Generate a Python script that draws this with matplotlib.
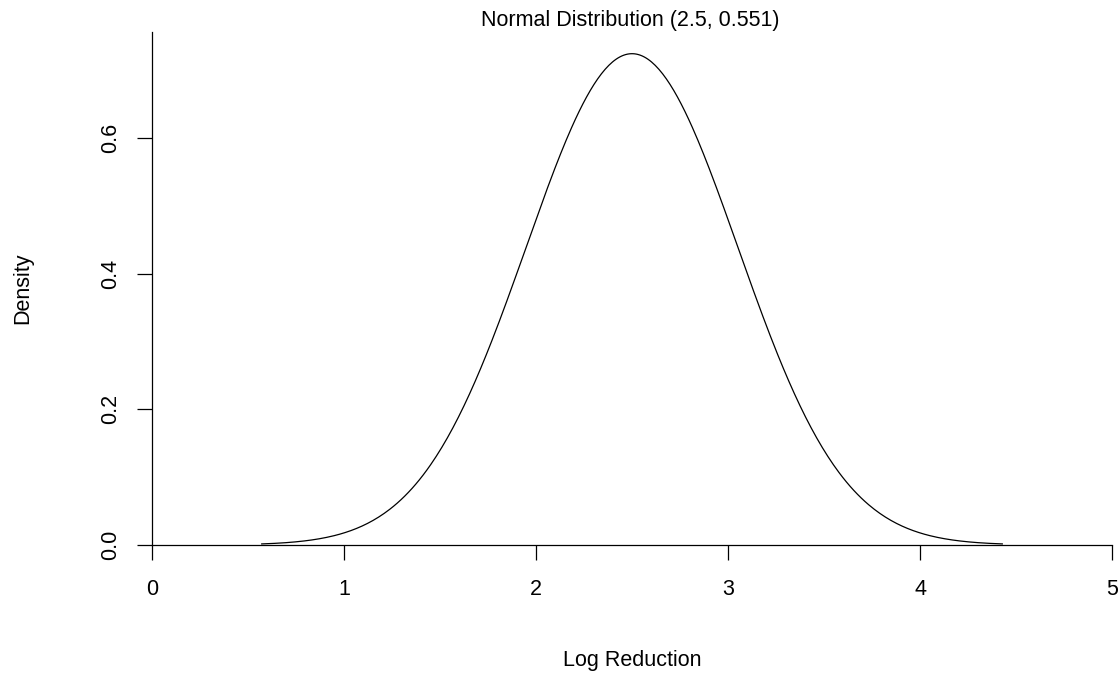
import numpy as np
import matplotlib.pyplot as plt

# distribution parameters (as given in the title)
mu = 2.5
sigma = 0.551

x_ticks = [0, 1, 2, 3, 4, 5]
y_ticks = [0.0, 0.2, 0.4, 0.6]
y_tick_labels = ["0.0", "0.2", "0.4", "0.6"]

# density curve over mu +/- 3.5 sd
x = np.linspace(mu - 3.5*sigma, mu + 3.5*sigma, 400)
dens = np.exp(-0.5*((x - mu)/sigma)**2) / (sigma*np.sqrt(2*np.pi))

plt.rcParams['font.family'] = ['Liberation Sans', 'DejaVu Sans']

fig = plt.figure(figsize=(11.2, 6.75), dpi=100)
ax = fig.add_axes([0.1357, 0.1926, 0.8572, 0.76])

ax.plot(x, dens, color='black', lw=0.9)

ax.set_xlim(0, 5)
ax.set_ylim(0, 0.756)
ax.spines['top'].set_visible(False)
ax.spines['right'].set_visible(False)
for s in ['left', 'bottom']:
    ax.spines[s].set_linewidth(0.9)

ax.set_xticks(x_ticks)
ax.set_yticks(y_ticks)
ax.set_yticklabels(y_tick_labels, rotation=90, va='center')
ax.tick_params(length=10.5, width=0.9, labelsize=15.5)
ax.tick_params(axis='x', pad=14)
ax.tick_params(axis='y', pad=12)
for lab in ax.get_xticklabels() + ax.get_yticklabels():
    lab.set_clip_on(False)

ax.set_xlabel("Log Reduction", fontsize=15.5, labelpad=36)
ax.set_ylabel("Density", fontsize=15.5, labelpad=48)
fig.text(0.5625, 0.97, "Normal Distribution (2.5, 0.551)", fontsize=15.5,
         ha='center', va='center')

fig.savefig("out.png", dpi=100)
